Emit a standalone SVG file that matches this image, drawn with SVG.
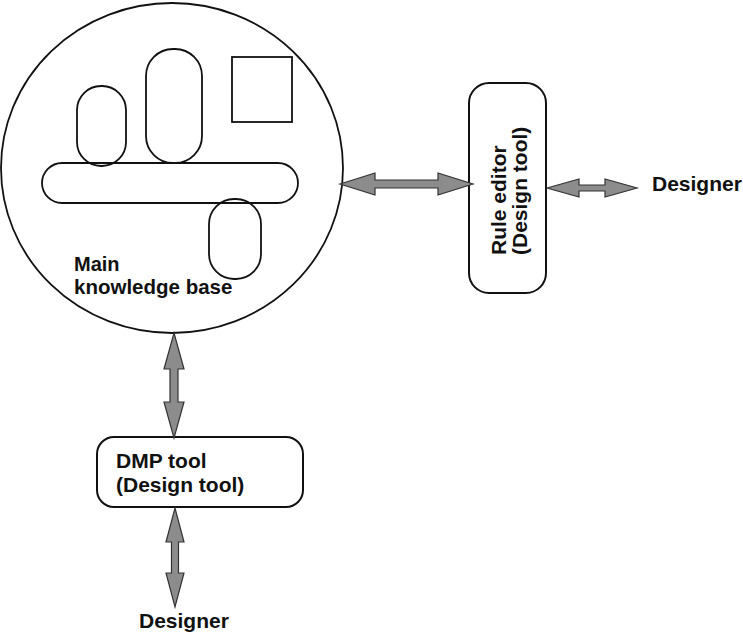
<svg xmlns="http://www.w3.org/2000/svg" width="743" height="635" viewBox="0 0 743 635">
<style>
.bg{fill:#ffffff}
.shape{fill:none;stroke:#111;stroke-width:1.8}
.box{fill:#ffffff;stroke:#111;stroke-width:2}
.lbl{font-family:"Liberation Sans",Arial,sans-serif;font-weight:bold;font-size:21px;fill:#111}
.arrow{fill:#8c8c8c;stroke:#333;stroke-width:1.2;stroke-linejoin:miter}
</style>
<rect class="bg" x="0" y="0" width="743" height="635"/>
<g id="kb">
<ellipse class="shape" cx="172" cy="168" rx="171" ry="165"/>
<rect class="shape" x="77" y="86" width="49" height="80" rx="24"/>
<rect class="shape" x="146" y="49" width="56" height="114" rx="27"/>
<rect class="shape" x="232" y="57" width="60" height="65"/>
<rect class="shape" x="42" y="163" width="256" height="40" rx="20"/>
<rect class="shape" x="209" y="199" width="52" height="80" rx="25"/>
<text class="lbl" x="74" y="271" style="font-size:20px">Main</text>
<text class="lbl" x="74" y="294" style="font-size:20.5px">knowledge base</text>
</g>
<g id="rule-editor">
<rect class="box" x="469" y="83" width="77" height="210" rx="20"/>
<text class="lbl" transform="translate(506,255) rotate(-90)">Rule editor</text>
<text class="lbl" transform="translate(527,255) rotate(-90)">(Design tool)</text>
</g>
<g id="dmp-tool">
<rect class="box" x="97" y="437" width="206" height="70" rx="17"/>
<text class="lbl" x="116" y="468">DMP tool</text>
<text class="lbl" x="116" y="492">(Design tool)</text>
</g>
<g id="designer-right">
<text class="lbl" x="652" y="191">Designer</text>
</g>
<g id="designer-bottom">
<text class="lbl" x="139" y="628">Designer</text>
</g>
<g id="connectors">
<path class="arrow" d="M340 184 L375 173 L375 180 L438 180 L438 173 L473 184 L438 195 L438 188 L375 188 L375 195 Z"/>
<path class="arrow" d="M547 188 L579 179 L579 185 L605 185 L605 179 L637 188 L605 197 L605 191 L579 191 L579 197 Z"/>
<path class="arrow" d="M174 333 L184 369 L178 369 L178 402 L184 402 L174 438 L164 402 L170 402 L170 369 L164 369 Z"/>
<path class="arrow" d="M175 508 L184 542 L178.5 542 L178.5 573 L184 573 L175 607 L166 573 L171.5 573 L171.5 542 L166 542 Z"/>
</g>
</svg>
